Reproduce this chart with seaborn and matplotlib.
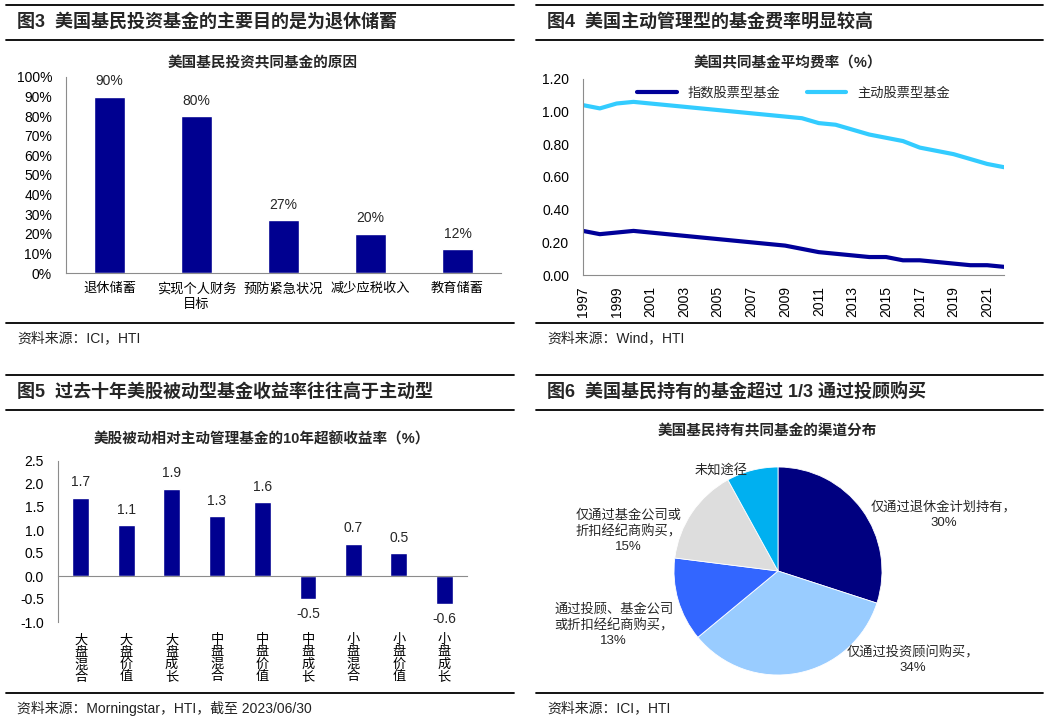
import numpy as np
import pandas as pd
import seaborn as sns
import matplotlib.pyplot as plt
from matplotlib.lines import Line2D
from matplotlib.ticker import PercentFormatter, FormatStrFormatter

# fig 3: reasons for holding mutual funds
reasons = ['退休储蓄', '实现个人财务\n目标', '预防紧急状况', '减少应税收入', '教育储蓄']
reason_share = [0.90, 0.80, 0.27, 0.20, 0.12]

# fig 4: average expense ratio (%)
years = list(range(1997, 2023))
index_fee = [0.27, 0.25, 0.26, 0.27, 0.26, 0.25, 0.24, 0.23, 0.22, 0.21, 0.20, 0.19, 0.18,
             0.16, 0.14, 0.13, 0.12, 0.11, 0.11, 0.09, 0.09, 0.08, 0.07, 0.06, 0.06, 0.05]
active_fee = [1.04, 1.02, 1.05, 1.06, 1.05, 1.04, 1.03, 1.02, 1.01, 1.00, 0.99, 0.98, 0.97,
              0.96, 0.93, 0.92, 0.89, 0.86, 0.84, 0.82, 0.78, 0.76, 0.74, 0.71, 0.68, 0.66]
fee_types = ['指数股票型基金', '主动股票型基金']

# fig 5: 10y excess return of passive vs active (%)
styles = ['大盘混合', '大盘价值', '大盘成长', '中盘混合', '中盘价值', '中盘成长', '小盘混合', '小盘价值', '小盘成长']
excess_return = [1.7, 1.1, 1.9, 1.3, 1.6, -0.5, 0.7, 0.5, -0.6]

# fig 6: channels
channels = ['仅通过退休金计划持有，', '仅通过投资顾问购买，', '通过投顾、基金公司\n或折扣经纪商购买，',
            '仅通过基金公司或\n折扣经纪商购买，', '未知途径']
channel_share = [30, 34, 13, 15, 8]
show_pct = [True, True, True, True, False]

NAVY = '#000090'
GRAY = '#8c8c8c'

sns.set_theme(style='white')
plt.rcParams['font.family'] = ['Liberation Sans', 'Noto Sans CJK SC']
plt.rcParams['axes.unicode_minus'] = False

W, H = 1052, 721
fig = plt.figure(figsize=(W / 100, H / 100), dpi=100)


def ax_at(l, t, r, b):
    return fig.add_axes([l / W, 1 - b / H, (r - l) / W, (b - t) / H])


def panel(x0, x1, y_top, y_bot, heading, title, title_x, title_y, source):
    for y in (y_top, y_top + 35, y_bot):
        fig.add_artist(Line2D([x0 / W, x1 / W], [1 - y / H] * 2, color='black', lw=1.3))
    fig.text((x0 + 11) / W, 1 - (y_top + 17) / H, heading, fontsize=13, weight='bold', va='center')
    fig.text(title_x / W, 1 - title_y / H, title, fontsize=10.5, weight='bold', ha='center', va='center')
    fig.text((x0 + 11) / W, 1 - (y_bot + 15) / H, source, fontsize=10, va='center', color='#222222')


def style_axes(ax):
    sns.despine(ax=ax)
    for s in ('left', 'bottom'):
        ax.spines[s].set_color(GRAY)
        ax.spines[s].set_linewidth(0.8)
    ax.tick_params(axis='both', which='both', direction='out', color=GRAY, width=0.8,
                   labelsize=10, colors='black')
    ax.tick_params(axis='y', length=4, pad=6)


# ---- fig 3
panel(6, 514, 5, 323, '图3  美国基民投资基金的主要目的是为退休储蓄',
      '美国基民投资共同基金的原因', 263, 63, '资料来源：ICI，HTI')
ax = ax_at(66, 77, 501, 273)
df3 = pd.DataFrame({'reason': reasons, 'share': reason_share})
sns.barplot(data=df3, x='reason', y='share', color=NAVY, saturation=1, width=0.35, ax=ax)
ax.bar_label(ax.containers[0], labels=[f'{v:.0%}' for v in reason_share], padding=6, fontsize=10)
ax.set_ylim(0, 1)
ax.set_xlim(-0.5, len(reasons) - 0.5)
ax.set_yticks(np.arange(0, 1.01, 0.1))
ax.yaxis.set_major_formatter(PercentFormatter(1.0, decimals=0))
ax.set_xticks(np.arange(-0.5, len(reasons), 1), minor=True)
ax.set(xlabel=None, ylabel=None)
style_axes(ax)
ax.tick_params(axis='x', which='major', length=0, pad=7, labelsize=9.5)
ax.tick_params(axis='x', which='minor', length=4)
for lbl in ax.get_xticklabels():
    lbl.set_linespacing(1.4)

# ---- fig 4
panel(536, 1043, 5, 323, '图4  美国主动管理型的基金费率明显较高',
      '美国共同基金平均费率（%）', 788, 63, '资料来源：Wind，HTI')
ax = ax_at(583, 79, 1004, 275)
df4 = pd.DataFrame({'year': years * 2, 'fee': index_fee + active_fee,
                    'type': [fee_types[0]] * len(years) + [fee_types[1]] * len(years)})
sns.lineplot(data=df4, x='year', y='fee', hue='type', palette=['#000099', '#33CCFF'],
             linewidth=3, ax=ax)
ax.set_xlim(1997, 2022)
ax.set_ylim(0, 1.2)
ax.set_xticks(range(1997, 2022, 2))
ax.set_yticks(np.arange(0, 1.21, 0.2))
ax.yaxis.set_major_formatter(FormatStrFormatter('%.2f'))
ax.set(xlabel=None, ylabel=None)
style_axes(ax)
ax.tick_params(axis='x', length=4, rotation=90, pad=4)
ax.legend(loc='upper center', ncol=2, frameon=False, handlelength=3, columnspacing=2,
          fontsize=9.5, bbox_to_anchor=(0.5, 1.0), borderaxespad=0.2)

# ---- fig 5
panel(6, 514, 375, 693, '图5  过去十年美股被动型基金收益率往往高于主动型',
      '美股被动相对主动管理基金的10年超额收益率（%）', 262, 439,
      '资料来源：Morningstar，HTI，截至 2023/06/30')
ax = ax_at(58, 461, 467, 622)
df5 = pd.DataFrame({'style': ['\n'.join(s) for s in styles], 'ret': excess_return})
sns.barplot(data=df5, x='style', y='ret', color=NAVY, saturation=1, width=0.37, ax=ax)
ax.bar_label(ax.containers[0], labels=[f'{v:.1f}' for v in excess_return], padding=6, fontsize=10)
ax.set_ylim(-1, 2.5)
ax.set_xlim(-0.5, len(styles) - 0.5)
ax.set_yticks(np.arange(-1, 2.51, 0.5))
ax.yaxis.set_major_formatter(FormatStrFormatter('%.1f'))
ax.set_xticks(np.arange(-0.5, len(styles), 1), minor=True)
ax.set(xlabel=None, ylabel=None)
style_axes(ax)
ax.spines['bottom'].set_position(('data', 0))
ax.tick_params(axis='x', which='major', length=0, pad=42, labelsize=9.5)
ax.tick_params(axis='x', which='minor', length=4)
for lbl in ax.get_xticklabels():
    lbl.set_linespacing(1.0)

# ---- fig 6
panel(536, 1043, 375, 693, '图6  美国基民持有的基金超过 1/3 通过投顾购买',
      '美国基民持有共同基金的渠道分布', 767, 431, '资料来源：ICI，HTI')
ax = ax_at(674, 467, 882, 675)
ax.pie(channel_share, colors=['#000080', '#99CCFF', '#3366FF', '#DDDDDD', '#00B0F0'],
       startangle=90, counterclock=False, radius=1,
       wedgeprops=dict(edgecolor='white', linewidth=0.6))
ax.set_xlim(-1, 1)
ax.set_ylim(-1, 1)
ax.set_aspect('equal')
label_pos = [(1.59, 0.54), (1.30, -0.86), (-1.58, -0.52), (-1.44, 0.38), (-0.55, 0.96)]
for name, v, flag, (lx, ly) in zip(channels, channel_share, show_pct, label_pos):
    txt = f'{name}\n{v}%' if flag else name
    ax.text(lx, ly, txt, ha='center', va='center', fontsize=9.5, linespacing=1.3, clip_on=False)

fig.savefig('out.png', dpi=100)
